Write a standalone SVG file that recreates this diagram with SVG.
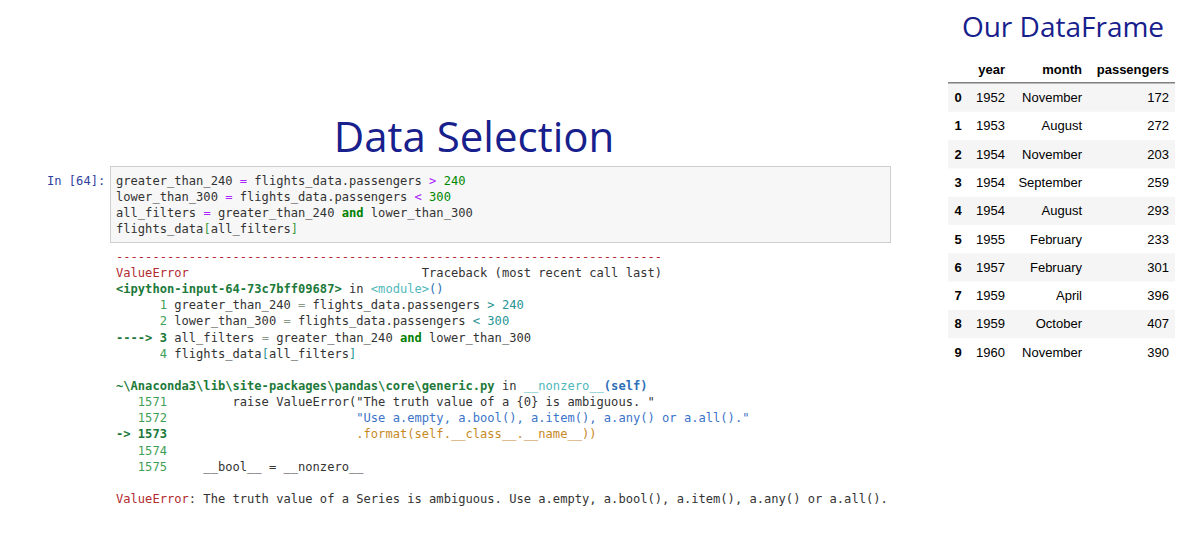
<svg xmlns="http://www.w3.org/2000/svg" width="1200" height="537" viewBox="0 0 1200 537">
<style>
.title{font-family:"Open Sans","Noto Sans",sans-serif;fill:#17208c}
.mono{font-family:"DejaVu Sans Mono","Liberation Mono",monospace;font-size:12.1px;fill:#333;white-space:pre}
.prompt{fill:#303F9F}
.op{fill:#AA22FF}
.num{fill:#008800}
.kw{fill:#008000;font-weight:bold}
.br{fill:#3a9a3a}
.red{fill:#B22B31}
.gb{fill:#1d7a3a;font-weight:bold}
.cy{fill:#4fb8ba}
.bl{fill:#2e6fb7}
.ln{fill:#3f9f55}
.tnum{fill:#2a9595}
.top{fill:#8a9a8a}
.str{fill:#3b74c9}
.or{fill:#c7891f}
.tbl{font-family:"Liberation Sans",Arial,sans-serif;font-size:13px;fill:#000}
.hd{font-weight:bold}
.band{fill:#f5f5f5}
</style>
<rect width="1200" height="537" fill="#ffffff"/>

<g id="title-data-selection">
<text class="title" x="474" y="152" font-size="42" text-anchor="middle">Data Selection</text>
</g>

<g id="title-dataframe">
<text class="title" x="1063" y="37" font-size="28" text-anchor="middle">Our DataFrame</text>
</g>

<g id="code-cell">
<text class="mono prompt" x="47" y="185" xml:space="preserve">In [64]:</text>
<rect x="110.5" y="166.5" width="780" height="76" fill="#f7f7f7" stroke="#cfcfcf" stroke-width="1"/>
<text class="mono" x="116" y="185" xml:space="preserve">greater_than_240 <tspan class="op">=</tspan> flights_data.passengers <tspan class="op">&gt;</tspan> <tspan class="num">240</tspan></text>
<text class="mono" x="116" y="201" xml:space="preserve">lower_than_300 <tspan class="op">=</tspan> flights_data.passengers <tspan class="op">&lt;</tspan> <tspan class="num">300</tspan></text>
<text class="mono" x="116" y="217" xml:space="preserve">all_filters <tspan class="op">=</tspan> greater_than_240 <tspan class="kw">and</tspan> lower_than_300</text>
<text class="mono" x="116" y="233" xml:space="preserve">flights_data<tspan class="br">[</tspan>all_filters<tspan class="br">]</tspan></text>
</g>

<g id="traceback">
<text class="mono red" x="116" y="261" xml:space="preserve">---------------------------------------------------------------------------</text>
<text class="mono" x="116" y="277" xml:space="preserve"><tspan class="red">ValueError</tspan>                                Traceback (most recent call last)</text>
<text class="mono" x="116" y="293.1" xml:space="preserve"><tspan class="gb">&lt;ipython-input-64-73c7bff09687&gt;</tspan> in <tspan class="cy">&lt;module&gt;</tspan><tspan class="bl">()</tspan></text>
<text class="mono" x="116" y="309.3" xml:space="preserve"><tspan class="ln">      1</tspan> greater_than_240 <tspan class="top">=</tspan> flights_data.passengers <tspan class="tnum">&gt;</tspan> <tspan class="tnum">240</tspan></text>
<text class="mono" x="116" y="325.4" xml:space="preserve"><tspan class="ln">      2</tspan> lower_than_300 <tspan class="top">=</tspan> flights_data.passengers <tspan class="tnum">&lt;</tspan> <tspan class="tnum">300</tspan></text>
<text class="mono" x="116" y="341.6" xml:space="preserve"><tspan class="gb">----&gt; 3</tspan> all_filters <tspan class="top">=</tspan> greater_than_240 <tspan class="kw">and</tspan> lower_than_300</text>
<text class="mono" x="116" y="357.7" xml:space="preserve"><tspan class="ln">      4</tspan> flights_data<tspan class="tnum">[</tspan>all_filters<tspan class="tnum">]</tspan></text>
<text class="mono" x="116" y="390" xml:space="preserve"><tspan class="gb">~\Anaconda3\lib\site-packages\pandas\core\generic.py</tspan> in <tspan class="cy">__nonzero__</tspan><tspan class="bl" font-weight="bold">(self)</tspan></text>
<text class="mono" x="116" y="406.1" xml:space="preserve"><tspan class="ln">   1571</tspan>         raise ValueError("The truth value of a {0} is ambiguous. "</text>
<text class="mono" x="116" y="422.3" xml:space="preserve"><tspan class="ln">   1572</tspan>                          <tspan class="str">"Use a.empty, a.bool(), a.item(), a.any() or a.all()."</tspan></text>
<text class="mono" x="116" y="438.4" xml:space="preserve"><tspan class="gb">-&gt; 1573</tspan>                          <tspan class="or">.format(self.__class__.__name__))</tspan></text>
<text class="mono" x="116" y="454.5" xml:space="preserve"><tspan class="ln">   1574</tspan></text>
<text class="mono" x="116" y="470.7" xml:space="preserve"><tspan class="ln">   1575</tspan>     __bool__ = __nonzero__</text>
<text class="mono" x="116" y="503" xml:space="preserve"><tspan class="red">ValueError</tspan>: The truth value of a Series is ambiguous. Use a.empty, a.bool(), a.item(), a.any() or a.all().</text>
</g>

<g id="dataframe-table" class="tbl">
<text class="tbl hd" x="1005" y="73.5" text-anchor="end">year</text>
<text class="tbl hd" x="1082" y="73.5" text-anchor="end">month</text>
<text class="tbl hd" x="1169" y="73.5" text-anchor="end">passengers</text>
<line x1="948" y1="83" x2="1175" y2="83" stroke="#000" stroke-width="1"/>
<rect class="band" x="948" y="83.5" width="227" height="28.3"/>
<rect class="band" x="948" y="140.1" width="227" height="28.3"/>
<rect class="band" x="948" y="196.7" width="227" height="28.3"/>
<rect class="band" x="948" y="253.3" width="227" height="28.3"/>
<rect class="band" x="948" y="309.9" width="227" height="28.3"/>
<g id="row-0"><text class="tbl hd" x="958" y="102" text-anchor="middle">0</text><text class="tbl" x="1005" y="102" text-anchor="end">1952</text><text class="tbl" x="1082" y="102" text-anchor="end">November</text><text class="tbl" x="1169" y="102" text-anchor="end">172</text></g>
<g id="row-1"><text class="tbl hd" x="958" y="130.3" text-anchor="middle">1</text><text class="tbl" x="1005" y="130.3" text-anchor="end">1953</text><text class="tbl" x="1082" y="130.3" text-anchor="end">August</text><text class="tbl" x="1169" y="130.3" text-anchor="end">272</text></g>
<g id="row-2"><text class="tbl hd" x="958" y="158.6" text-anchor="middle">2</text><text class="tbl" x="1005" y="158.6" text-anchor="end">1954</text><text class="tbl" x="1082" y="158.6" text-anchor="end">November</text><text class="tbl" x="1169" y="158.6" text-anchor="end">203</text></g>
<g id="row-3"><text class="tbl hd" x="958" y="186.9" text-anchor="middle">3</text><text class="tbl" x="1005" y="186.9" text-anchor="end">1954</text><text class="tbl" x="1082" y="186.9" text-anchor="end">September</text><text class="tbl" x="1169" y="186.9" text-anchor="end">259</text></g>
<g id="row-4"><text class="tbl hd" x="958" y="215.2" text-anchor="middle">4</text><text class="tbl" x="1005" y="215.2" text-anchor="end">1954</text><text class="tbl" x="1082" y="215.2" text-anchor="end">August</text><text class="tbl" x="1169" y="215.2" text-anchor="end">293</text></g>
<g id="row-5"><text class="tbl hd" x="958" y="243.5" text-anchor="middle">5</text><text class="tbl" x="1005" y="243.5" text-anchor="end">1955</text><text class="tbl" x="1082" y="243.5" text-anchor="end">February</text><text class="tbl" x="1169" y="243.5" text-anchor="end">233</text></g>
<g id="row-6"><text class="tbl hd" x="958" y="271.8" text-anchor="middle">6</text><text class="tbl" x="1005" y="271.8" text-anchor="end">1957</text><text class="tbl" x="1082" y="271.8" text-anchor="end">February</text><text class="tbl" x="1169" y="271.8" text-anchor="end">301</text></g>
<g id="row-7"><text class="tbl hd" x="958" y="300.1" text-anchor="middle">7</text><text class="tbl" x="1005" y="300.1" text-anchor="end">1959</text><text class="tbl" x="1082" y="300.1" text-anchor="end">April</text><text class="tbl" x="1169" y="300.1" text-anchor="end">396</text></g>
<g id="row-8"><text class="tbl hd" x="958" y="328.4" text-anchor="middle">8</text><text class="tbl" x="1005" y="328.4" text-anchor="end">1959</text><text class="tbl" x="1082" y="328.4" text-anchor="end">October</text><text class="tbl" x="1169" y="328.4" text-anchor="end">407</text></g>
<g id="row-9"><text class="tbl hd" x="958" y="356.7" text-anchor="middle">9</text><text class="tbl" x="1005" y="356.7" text-anchor="end">1960</text><text class="tbl" x="1082" y="356.7" text-anchor="end">November</text><text class="tbl" x="1169" y="356.7" text-anchor="end">390</text></g>
</g>

<g id="connectors"></g>
</svg>
